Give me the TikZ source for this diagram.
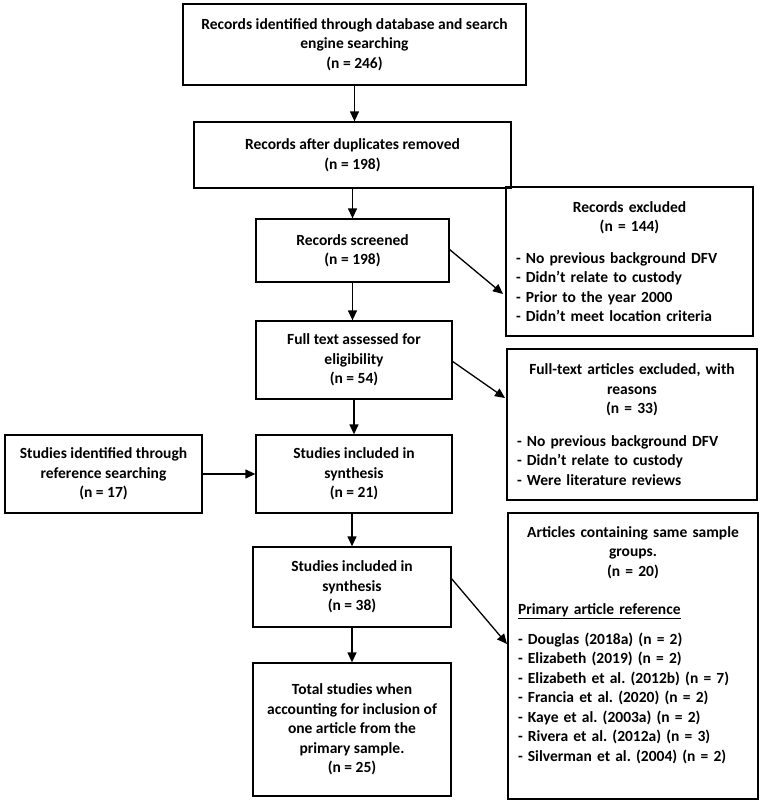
\documentclass[tikz,border=0pt]{standalone}
\usepackage{fontspec}
\setmainfont{Carlito}
\usetikzlibrary{arrows.meta}
\setlength{\parindent}{0pt}
\frenchspacing
\begin{document}
\begin{tikzpicture}[x=1pt,y=-1pt,
  box/.style={draw, line width=1.3pt, inner sep=0pt, align=center,
    font=\fontsize{15.5}{19.5}\selectfont\bfseries},
  rbox/.style={draw, line width=1.3pt, inner xsep=10pt, inner ysep=0pt,
    font=\fontsize{15.5}{19.5}\selectfont\bfseries},
  arr/.style={line width=1.3pt, -{Triangle[length=10pt,width=9pt]}}]
\useasboundingbox (0,0) rectangle (762,803);
\node[box, minimum width=343pt, minimum height=81pt] (b1) at (354.5,44.5)
  {Records identified through database and search\\engine searching\\(n = 246)};
\node[box, minimum width=317pt, minimum height=66pt] (b2) at (352.5,155)
  {Records after duplicates removed\\(n = 198)};
\node[box, minimum width=193pt, minimum height=63pt] (b3) at (352.5,250.5)
  {Records screened\\(n = 198)};
\node[box, minimum width=196pt, minimum height=78pt] (b4) at (354,360)
  {Full text assessed for\\eligibility\\(n = 54)};
\node[box, minimum width=196pt, minimum height=78pt] (b5) at (354,474)
  {Studies included in\\synthesis\\(n = 21)};
\node[box, minimum width=197pt, minimum height=78pt] (lf) at (103.5,474)
  {Studies identified through\\reference searching\\(n = 17)};
\node[box, minimum width=198pt, minimum height=80pt] (b6) at (352,587)
  {Studies included in\\synthesis\\(n = 38)};
\node[box, minimum width=198pt, minimum height=133pt] (b7) at (352,729.5)
  {Total studies when\\accounting for inclusion of\\one article from the\\primary sample.\\(n = 25)};

\node[rbox, text width=227pt, minimum height=149pt] (r1) at (629.5,261.5)
  {{\centering Records excluded\\(n = 144)\par}\vspace{12pt}\raggedright
   - No previous background DFV\\- Didn’t relate to custody\\- Prior to the year 2000\\- Didn’t meet location criteria\par};
\node[rbox, text width=230pt, minimum height=151pt] (r2) at (632,424.5)
  {{\centering Full-text articles excluded, with\\reasons\\(n = 33)\par}\vspace{13pt}\raggedright
   - No previous background DFV\\- Didn’t relate to custody\\- Were literature reviews\par};
\node[rbox, text width=230pt, minimum height=286pt] (r3) at (633,656)
  {{\centering Articles containing same sample\\groups.\\(n = 20)\par}\vspace{19pt}\raggedright
   \underline{Primary article reference}\par\vspace{10pt}
   - Douglas (2018a) (n = 2)\\- Elizabeth (2019) (n = 2)\\- Elizabeth et al. (2012b) (n = 7)\\- Francia et al. (2020) (n = 2)\\- Kaye et al. (2003a) (n = 2)\\- Rivera et al. (2012a) (n = 3)\\- Silverman et al. (2004) (n = 2)\par\rule{0pt}{21pt}};

\coordinate (s3) at (449,249);
\coordinate (e3) at (503,294);
\coordinate (s4) at (452,361);
\coordinate (e4) at (505,398);
\coordinate (s6) at (451,578);
\coordinate (e6) at (507,644);

\draw[arr] (b1.south) -- (b1.south |- b2.north);
\draw[arr] (b3.north |- b2.south) -- (b3.north);
\draw[arr] (b3.south) -- (b3.south |- b4.north);
\draw[arr] (b4.south) -- (b4.south |- b5.north);
\draw[arr] (b6.north |- b5.south) -- (b6.north);
\draw[arr] (b6.south) -- (b7.north);
\draw[arr] (lf.east) -- (b5.west);
\draw[arr] (s3) -- (e3);
\draw[arr] (s4) -- (e4);
\draw[arr] (s6) -- (e6);
\end{tikzpicture}
\end{document}
